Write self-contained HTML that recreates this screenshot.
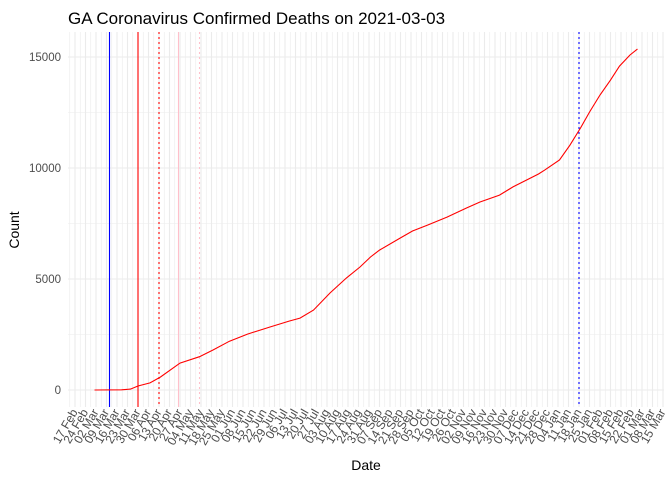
<!DOCTYPE html>
<html><head><meta charset="utf-8"><style>
body{margin:0;background:#fff;}
svg{display:block;font-family:"Liberation Sans",Arial,sans-serif;}
</style></head><body>
<svg id="chart" width="672" height="480">
<text x="68" y="24" font-size="17" fill="#000">GA Coronavirus Confirmed Deaths on 2021-03-03</text>
<g id="grid"></g><g id="vlines"></g><g id="series"></g><g id="xaxis"></g><g id="yaxis"></g>
<text x="366" y="470" font-size="14" text-anchor="middle" fill="#000">Date</text>
<text transform="translate(19,230) rotate(-90)" font-size="14" text-anchor="middle" fill="#000">Count</text>
</svg>
<script>
const dates=["2020-03-01","2020-03-19","2020-03-25","2020-03-30","2020-04-07","2020-04-14","2020-04-27","2020-05-10","2020-05-19","2020-05-30","2020-06-11","2020-06-26","2020-07-09","2020-07-16","2020-07-25","2020-08-05","2020-08-16","2020-08-25","2020-09-01","2020-09-07","2020-09-21","2020-09-29","2020-10-09","2020-10-22","2020-11-04","2020-11-13","2020-11-26","2020-12-05","2020-12-22","2020-12-26","2021-01-05","2021-01-12","2021-01-19","2021-01-25","2021-02-01","2021-02-08","2021-02-14","2021-02-21","2021-02-26"];
const deaths=[0,10,40,180,320,585,1210,1500,1800,2200,2520,2840,3110,3240,3600,4370,5050,5540,5990,6300,6850,7160,7430,7790,8200,8470,8780,9150,9730,9900,10360,11030,11800,12520,13290,13960,14590,15090,15360];
const yTicks=[0,5000,10000,15000];
const eventDates=["2020-03-11","2020-03-30","2020-04-13","2020-04-26","2020-05-10","2021-01-18"];
const eventColors=["#0000ff","#ff0000","#ff0000","#ffc0cb","#ffc0cb","#0000ff"];
const eventDash=["","","2,3","","2,3","2,3"];
const tickStart="2020-02-17", tickCount=57;

const NS="http://www.w3.org/2000/svg";
const base=Date.UTC(2020,1,17);
const months=["Jan","Feb","Mar","Apr","May","Jun","Jul","Aug","Sep","Oct","Nov","Dec"];
function dayOf(s){const p=s.split("-");return (Date.UTC(+p[0],+p[1]-1,+p[2])-base)/864e5;}
function xs(d){return 75+d*1.5;}
function ys(v){return 390-v*55.5/2500;}
const L=68,R=664,T=32,B=407;
function mk(tag,attrs,parent){const e=document.createElementNS(NS,tag);for(const k in attrs)e.setAttribute(k,attrs[k]);parent.appendChild(e);return e;}
const grid=document.getElementById("grid");
for(let v=-2500;v<=17500;v+=2500){const y=ys(v);if(y<T||y>B)continue;
 const l=mk("line",{x1:L,x2:R,y1:y,y2:y,stroke:"#ebebeb","stroke-width":v%5000===0?1.1:0.55},grid);
 
 }
for(let d=-3.5;xs(d)<=R;d+=3.5){const x=xs(d);
 const l=mk("line",{x1:x,x2:x,y1:T,y2:B,stroke:"#ebebeb","stroke-width":(d%7===0)?1.1:0.55},grid);
 
 }
const vl=document.getElementById("vlines");
eventDates.forEach((s,i)=>{const x=xs(dayOf(s));
 const l=mk("line",{x1:x,x2:x,y1:T,y2:B,stroke:eventColors[i],"stroke-width":1.1},vl);
 if(eventDash[i])l.setAttribute("stroke-dasharray",eventDash[i]);
 
 });
const pts=dates.map((s,i)=>xs(dayOf(s)).toFixed(1)+","+ys(deaths[i]).toFixed(1)).join(" ");
const pl=mk("polyline",{points:pts,fill:"none",stroke:"#ff0000","stroke-width":1.1},document.getElementById("series"));


const ya=document.getElementById("yaxis");
yTicks.forEach(v=>{const t=mk("text",{x:61,y:ys(v)+4,"font-size":11.5,"text-anchor":"end",fill:"#4d4d4d"},ya);t.textContent=v;
 
 });
const xa=document.getElementById("xaxis");
for(let i=0;i<tickCount;i++){const d=dayOf(tickStart)+7*i;const dt=new Date(base+d*864e5);
 const lab=String(dt.getUTCDate()).padStart(2,"0")+" "+months[dt.getUTCMonth()];
 const x=xs(d)+3,y=412;
 const t=mk("text",{x:x,y:y,"font-size":12,"text-anchor":"end",fill:"#4d4d4d",transform:`rotate(-60 ${x} ${y})`},xa);
 t.textContent=lab;
 
 }
</script>
</body></html>
